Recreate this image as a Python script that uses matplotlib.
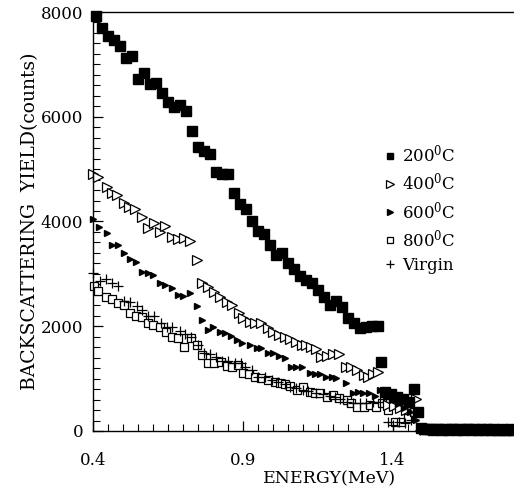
import matplotlib
matplotlib.use('Agg')
import matplotlib.pyplot as plt
from matplotlib.ticker import MultipleLocator

plt.rcParams['font.family'] = 'DejaVu Serif'
plt.rcParams['mathtext.fontset'] = 'dejavuserif'

# 200 C, filled squares (the dense run past 1.49 MeV is the near-zero tail)
e200 = [0.41, 0.43, 0.45, 0.47, 0.49, 0.51, 0.53, 0.55, 0.57, 0.59, 0.61, 0.63, 0.65, 0.67,
        0.69, 0.71, 0.73, 0.75, 0.77, 0.79, 0.81, 0.83, 0.85, 0.87, 0.89, 0.91, 0.93, 0.95,
        0.97, 0.99, 1.01, 1.03, 1.05, 1.07, 1.09, 1.11, 1.13, 1.15, 1.17, 1.19, 1.21, 1.23,
        1.25, 1.27, 1.29, 1.31, 1.33, 1.35, 1.36, 1.373, 1.393, 1.413, 1.433, 1.453, 1.47, 1.483,
        1.495, 1.505, 1.515, 1.525, 1.535, 1.545, 1.555, 1.565, 1.575, 1.585, 1.595, 1.605,
        1.615, 1.625, 1.635, 1.645, 1.655, 1.665, 1.675, 1.685, 1.695, 1.705, 1.715, 1.725,
        1.735, 1.745, 1.755, 1.765, 1.775, 1.785, 1.795, 1.803]
c200 = [7923, 7693, 7541, 7464, 7350, 7121, 7159, 6720, 6834, 6624, 6643, 6452, 6281, 6185,
        6223, 6109, 5727, 5422, 5345, 5288, 4944, 4906, 4906, 4543, 4333, 4238, 4009, 3818,
        3761, 3551, 3360, 3398, 3207, 3093, 2959, 2883, 2825, 2692, 2558, 2405, 2482, 2367,
        2157, 2062, 1966, 1985, 2004, 2004, 1317, 750, 706, 649, 611, 560, 802, 363,
        60, 40, 30, 45, 25, 30, 40, 20, 35, 25, 30, 40, 20, 30,
        25, 35, 30, 20, 30, 25, 30, 20, 35, 25, 30, 20, 25, 30,
        20, 25, 30, 25]

# 400 C, open triangles
e400 = [0.401, 0.418, 0.446, 0.462, 0.479, 0.504, 0.52, 0.54, 0.562, 0.584, 0.604, 0.623,
        0.64, 0.664, 0.682, 0.704, 0.723, 0.746, 0.764, 0.784, 0.804, 0.823, 0.846, 0.864,
        0.887, 0.901, 0.923, 0.94, 0.962, 0.984, 1.001, 1.021, 1.04, 1.057, 1.077, 1.096,
        1.112, 1.129, 1.143, 1.162, 1.181, 1.201, 1.221, 1.243, 1.262, 1.281, 1.303, 1.317,
        1.333, 1.35, 1.383, 1.403, 1.423, 1.443, 1.479]
c400 = [4906, 4855, 4664, 4549, 4505, 4347, 4282, 4232, 4091, 3869, 3977, 3805,
        3913, 3709, 3660, 3679, 3633, 3264, 2831, 2755, 2659, 2564, 2468, 2405,
        2247, 2151, 2087, 2056, 2056, 1961, 1896, 1833, 1800, 1751, 1705, 1642,
        1642, 1609, 1560, 1418, 1432, 1464, 1470, 1227, 1216, 1164, 1069, 1037,
        1088, 1132, 496, 477, 439, 401, 605]

# 600 C, filled triangles
e600 = [0.401, 0.42, 0.446, 0.464, 0.482, 0.504, 0.523, 0.542, 0.564, 0.582, 0.601, 0.623,
        0.64, 0.664, 0.682, 0.701, 0.723, 0.746, 0.764, 0.784, 0.801, 0.823, 0.84, 0.859,
        0.879, 0.896, 0.923, 0.946, 0.962, 0.984, 1.001, 1.021, 1.04, 1.062, 1.079, 1.099,
        1.123, 1.14, 1.157, 1.177, 1.196, 1.212, 1.243, 1.266, 1.284, 1.301, 1.321, 1.34,
        1.357, 1.377, 1.397, 1.417, 1.437, 1.457, 1.477]
c600 = [4041, 3889, 3786, 3551, 3551, 3392, 3278, 3232, 3041, 3010, 2978, 2831,
        2787, 2724, 2596, 2577, 2640, 2386, 2119, 1928, 1980, 1896, 1865, 1814,
        1737, 1674, 1642, 1579, 1579, 1495, 1483, 1432, 1388, 1227, 1227, 1227,
        1101, 1088, 1088, 1037, 1025, 1006, 911, 731, 750, 731, 720, 674,
        783, 649, 592, 515, 439, 363, 210]

# 800 C, open squares
e800 = [0.404, 0.418, 0.442, 0.462, 0.482, 0.504, 0.523, 0.542, 0.562, 0.582, 0.601, 0.623,
        0.642, 0.664, 0.684, 0.704, 0.727, 0.746, 0.764, 0.784, 0.804, 0.827, 0.846, 0.864,
        0.884, 0.901, 0.921, 0.94, 0.962, 0.984, 1.007, 1.023, 1.04, 1.057, 1.081, 1.101,
        1.123, 1.14, 1.157, 1.181, 1.201, 1.221, 1.246, 1.262, 1.281, 1.303, 1.323, 1.346,
        1.366, 1.383, 1.407, 1.429, 1.45, 1.47]
c800 = [2768, 2678, 2564, 2514, 2449, 2405, 2258, 2195, 2171, 2067, 2024, 1991,
        1896, 1800, 1770, 1609, 1770, 1642, 1451, 1292, 1292, 1323, 1241, 1227,
        1260, 1113, 1088, 1037, 1006, 974, 941, 911, 897, 859, 783, 846,
        750, 731, 731, 655, 687, 624, 592, 540, 464, 464, 496, 464,
        529, 401, 178, 178, 248, 363]

# virgin, plus signs
ev = [0.40, 0.423, 0.442, 0.462, 0.482, 0.504, 0.523, 0.546, 0.564, 0.584, 0.604, 0.627,
      0.646, 0.664, 0.69, 0.707, 0.727, 0.749, 0.771, 0.79, 0.809, 0.831, 0.851, 0.873,
      0.893, 0.907, 0.929, 0.951, 0.973, 0.996, 1.018, 1.04, 1.057, 1.079, 1.101, 1.118,
      1.143, 1.168, 1.19, 1.207, 1.223, 1.246, 1.268, 1.29, 1.312, 1.334, 1.357, 1.383,
      1.40, 1.42, 1.44, 1.46, 1.49]
cv = [3016, 2869, 2896, 2831, 2768, 2487, 2468, 2386, 2310, 2195, 2195, 2056,
      1991, 1991, 1915, 1852, 1789, 1642, 1483, 1470, 1407, 1342, 1342, 1304,
      1292, 1227, 1164, 1037, 1037, 974, 941, 897, 846, 815, 783, 769,
      720, 706, 668, 655, 605, 559, 540, 529, 529, 559, 559, 178,
      115, 172, 153, 210, 19]

labels = ['200$^{\\mathrm{0}}$C', '400$^{\\mathrm{0}}$C', '600$^{\\mathrm{0}}$C',
          '800$^{\\mathrm{0}}$C', 'Virgin']

fig = plt.figure(figsize=(5.14, 4.92), dpi=100)
ax = fig.add_axes([0.181, 0.124, 0.819, 0.8516])

kw = dict(linestyle='none', clip_on=False)
ax.plot(e800, c800, marker='s', ms=6, mfc='white', mec='black', mew=0.9, label=labels[3], **kw)
ax.plot(ev, cv, marker='+', ms=7, color='black', mew=0.9, label=labels[4], **kw)
ax.plot(e400, c400, marker='>', ms=7.5, mfc='white', mec='black', mew=0.9, label=labels[1], **kw)
ax.plot(e600, c600, marker='>', ms=5, color='black', label=labels[2], **kw)
ax.plot(e200, c200, marker='s', ms=6.5, color='black', label=labels[0], **kw)

ax.set_xlim(0.4, 1.805)
ax.set_ylim(0, 8000)
ax.set_xticks([0.4, 0.9, 1.4])
ax.set_yticks([0, 2000, 4000, 6000, 8000])
ax.xaxis.set_minor_locator(MultipleLocator(0.05))
ax.yaxis.set_minor_locator(MultipleLocator(200))
ax.tick_params(which='both', direction='in', labelsize=12, top=False, right=False)
ax.tick_params(which='major', length=7, width=0.9)
ax.tick_params(which='minor', length=5, width=0.8)
ax.tick_params(axis='x', pad=15)
ax.tick_params(axis='y', pad=7)
ax.spines['right'].set_visible(False)
for s in ['left', 'bottom', 'top']:
    ax.spines[s].set_linewidth(1.0)

ax.set_xlabel('ENERGY(MeV)', fontsize=12.5)
ax.xaxis.set_label_coords(0.563, -0.093)
ax.set_ylabel('BACKSCATTERING  YIELD(counts)', fontsize=13.5, labelpad=1)

h, l = ax.get_legend_handles_labels()
order = [l.index(x) for x in labels]
ax.legend([h[i] for i in order], [l[i] for i in order], loc='upper left',
          bbox_to_anchor=(0.733, 0.725), bbox_transform=fig.transFigure,
          frameon=False, fontsize=12, handlelength=0.6, handletextpad=0.4,
          labelspacing=0.38, markerscale=0.75, borderpad=0)

fig.savefig('out.png', dpi=100)
